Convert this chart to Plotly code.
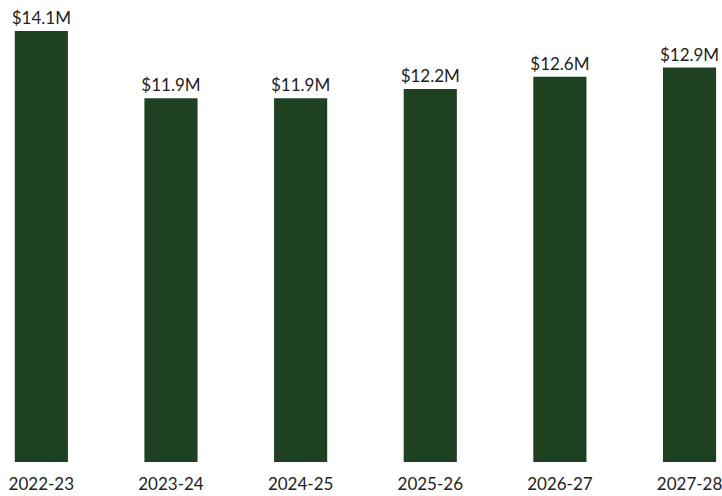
import plotly.graph_objects as go

years = ["2022-23", "2023-24", "2024-25", "2025-26", "2026-27", "2027-28"]
values = [14.1, 11.9, 11.9, 12.2, 12.6, 12.9]
labels = ["$14.1M", "$11.9M", "$11.9M", "$12.2M", "$12.6M", "$12.9M"]

fig = go.Figure(go.Bar(
    x=years, y=values, text=labels, textposition="outside",
    constraintext="none",
    marker=dict(color="#1E4221", line=dict(width=0)),
    textfont=dict(size=17, color="#222222", family="Lato"),
    cliponaxis=False,
))
fig.update_layout(
    width=722, height=496, margin=dict(l=0, r=0, t=0, b=34),
    paper_bgcolor="white", plot_bgcolor="white",
    bargap=0.59, showlegend=False,
    font=dict(family="Lato", size=17, color="#222222"),
    xaxis=dict(range=[-0.319, 5.235], showgrid=False, showline=False, ticks="",
               ticklabelstandoff=10,
               tickfont=dict(size=17, color="#222222")),
    yaxis=dict(range=[0, 15.11], visible=False),
)
fig.write_html("out.html")
